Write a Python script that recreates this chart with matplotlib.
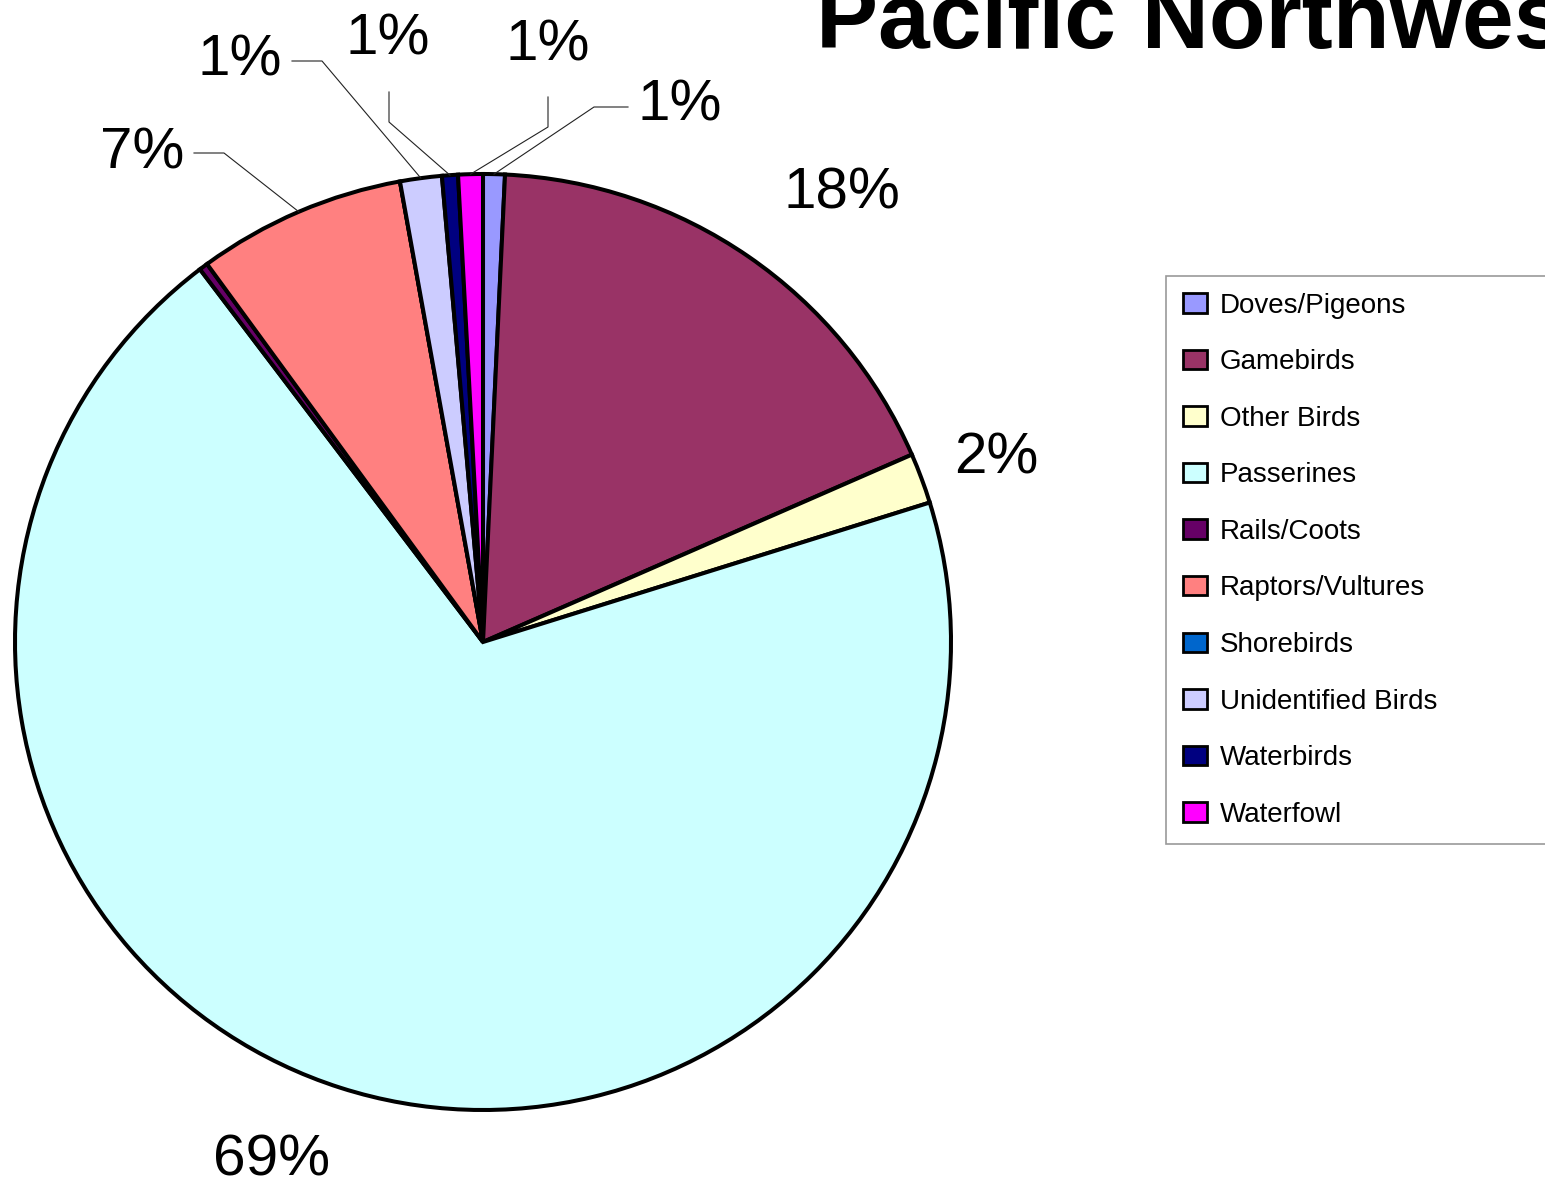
import numpy as np
import matplotlib.pyplot as plt

plt.rcParams['font.family'] = ['Liberation Sans', 'DejaVu Sans']

# bird groups, share of the total (percent)
categories = ['Doves/Pigeons', 'Gamebirds', 'Other Birds', 'Passerines', 'Rails/Coots',
              'Raptors/Vultures', 'Shorebirds', 'Unidentified Birds', 'Waterbirds', 'Waterfowl']
shares = [0.75, 17.7, 1.74, 69.5, 0.3, 7.2, 0.0, 1.44, 0.55, 0.85]
colors = ['#9999FF', '#993366', '#FFFFCC', '#CCFFFF', '#660066',
          '#FF8080', '#0066CC', '#CCCCFF', '#000080', '#FF00FF']
title = 'Pacific Northwest'

W, H = 1545, 1183
def Y(y):
    # pixel row from the top -> data y
    return H - y

# label layout: (x, baseline y) and optional elbow of the leader line, in pixels
label_pos = {
    'Doves/Pigeons': ((680, 120), [(628, 107), (594, 107)]),
    'Gamebirds': ((842, 208), None),
    'Other Birds': ((996, 473), None),
    'Passerines': ((272, 1175), None),
    'Raptors/Vultures': ((142, 168), [(194, 153), (224, 153)]),
    'Unidentified Birds': ((240, 75), [(292, 61), (322, 61)]),
    'Waterbirds': ((388, 54), [(389, 92), (389, 122)]),
    'Waterfowl': ((548, 60), [(548, 97), (548, 127)]),
}

cx, cy, r = 483, 642, 468

fig = plt.figure(figsize=(W / 100, H / 100), dpi=100)
ax = fig.add_axes([0, 0, 1, 1])
wedges, _ = ax.pie(shares, colors=colors, startangle=90, counterclock=False,
                   center=(cx, Y(cy)), radius=r,
                   wedgeprops=dict(edgecolor='black', linewidth=2.9))
ax.set_xlim(0, W)
ax.set_ylim(0, H)
ax.set_aspect('equal')
ax.axis('off')

total = sum(shares)
for w, name, v in zip(wedges, categories, shares):
    if name not in label_pos:
        continue
    (lx, ly), elbow = label_pos[name]
    ax.text(lx, Y(ly), '{:.0f}%'.format(v / total * 100), fontsize=42,
            ha='center', va='baseline')
    if elbow:
        mid = np.deg2rad((w.theta1 + w.theta2) / 2)
        ex, ey = cx + r * np.cos(mid), Y(cy) + r * np.sin(mid)
        xs = [p[0] for p in elbow] + [ex]
        ys = [Y(p[1]) for p in elbow] + [ey]
        ax.plot(xs, ys, color='#222222', lw=0.8)

fig.text(816 / W, 1 - 48 / H, title, fontsize=67, fontweight='bold',
         ha='left', va='baseline')

leg = ax.legend(wedges, categories, loc='upper left',
                bbox_to_anchor=(1166 / W, 1 - 276 / H, 0.4, 0), mode='expand',
                fontsize=20, frameon=True, fancybox=False, borderaxespad=0,
                handlelength=0.88, handleheight=0.7, handletextpad=0.45,
                labelspacing=1.1, borderpad=0.6)
leg.get_frame().set_edgecolor('#808080')
leg.get_frame().set_linewidth(1.2)
for h in leg.legend_handles:
    h.set_linewidth(2.0)

fig.savefig('out.png', dpi=100)
